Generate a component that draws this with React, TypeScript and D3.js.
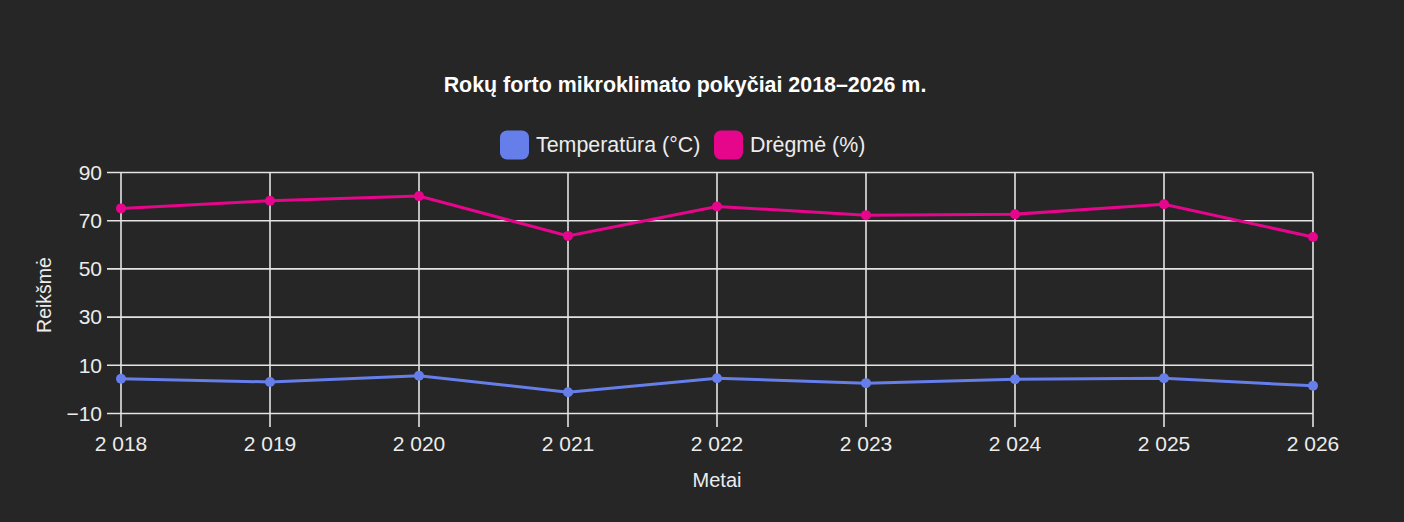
import { useEffect, useRef } from "react";
import * as d3 from "d3";

const years = [2018, 2019, 2020, 2021, 2022, 2023, 2024, 2025, 2026];
const temperature = [4.4, 3.1, 5.7, -1.2, 4.6, 2.6, 4.2, 4.6, 1.5];
const humidity = [75.1, 78.3, 80.2, 63.7, 75.9, 72.3, 72.7, 76.8, 63.2];
const yTicks = [-10, 10, 30, 50, 70, 90];
const seriesNames = ["Temperatūra (°C)", "Drėgmė (%)"];
const seriesColors = ["#667eea", "#e6068c"];

const W = 1404,
  H = 522;

const App = () => {
  const ref = useRef<SVGSVGElement>(null);

  useEffect(() => {
    document.body.style.margin = "0";
    document.body.style.background = "#262626";
    const svg = d3.select(ref.current);
    svg.selectAll("*").remove();

    const font = "Arial, 'Liberation Sans', sans-serif";
    const gridColor = "#e4e4e4";
    const textColor = "#ececec";

    svg.append("rect").attr("width", W).attr("height", H).attr("fill", "#262626");

    const x = d3.scalePoint<number>().domain(years).range([121, 1313]);
    const y = d3.scaleLinear().domain([-10, 90]).range([413.5, 172.5]);

    const lt = d3.formatLocale({
      decimal: ",",
      thousands: "\u00a0",
      grouping: [3],
      currency: ["", " €"],
    });
    const yearFmt = lt.format(",d");

    // grid
    const grid = svg.append("g");
    yTicks.forEach((t) => {
      grid
        .append("line")
        .attr("x1", 107)
        .attr("x2", 1313)
        .attr("y1", y(t))
        .attr("y2", y(t))
        .attr("stroke", gridColor)
        .attr("stroke-width", 1.6);
    });
    years.forEach((yr) => {
      grid
        .append("line")
        .attr("x1", x(yr)!)
        .attr("x2", x(yr)!)
        .attr("y1", y(90))
        .attr("y2", 427)
        .attr("stroke", gridColor)
        .attr("stroke-width", 1.6);
    });

    // y tick labels
    svg
      .append("g")
      .selectAll("text")
      .data(yTicks)
      .enter()
      .append("text")
      .attr("x", 102)
      .attr("y", (d) => y(d))
      .attr("dy", "0.35em")
      .attr("text-anchor", "end")
      .attr("fill", textColor)
      .style("font-family", font)
      .style("font-size", "21px")
      .text((d) => d3.format("d")(d));

    // x tick labels
    svg
      .append("g")
      .selectAll("text")
      .data(years)
      .enter()
      .append("text")
      .attr("x", (d) => x(d)!)
      .attr("y", 451)
      .attr("text-anchor", "middle")
      .attr("fill", textColor)
      .style("font-family", font)
      .style("font-size", "21px")
      .text((d) => yearFmt(d));

    // axis titles
    svg
      .append("text")
      .attr("x", 717)
      .attr("y", 487)
      .attr("text-anchor", "middle")
      .attr("fill", textColor)
      .style("font-family", font)
      .style("font-size", "20px")
      .text("Metai");
    svg
      .append("text")
      .attr("transform", "translate(51,295) rotate(-90)")
      .attr("text-anchor", "middle")
      .attr("fill", textColor)
      .style("font-family", font)
      .style("font-size", "19.5px")
      .text("Reikšmė");

    // series
    const line = d3
      .line<number>()
      .x((_, i) => x(years[i])!)
      .y((d) => y(d));
    [temperature, humidity].forEach((vals, si) => {
      const g = svg.append("g");
      g.append("path")
        .attr("d", line(vals) as string)
        .attr("fill", "none")
        .attr("stroke", seriesColors[si])
        .attr("stroke-width", 3);
      g.selectAll("circle")
        .data(vals)
        .enter()
        .append("circle")
        .attr("cx", (_, i) => x(years[i])!)
        .attr("cy", (d) => y(d))
        .attr("r", 5)
        .attr("fill", seriesColors[si]);
    });

    // title
    svg
      .append("text")
      .attr("x", 685)
      .attr("y", 92)
      .attr("text-anchor", "middle")
      .attr("fill", "#ffffff")
      .style("font-family", font)
      .style("font-size", "21.4px")
      .style("font-weight", "bold")
      .text("Rokų forto mikroklimato pokyčiai 2018–2026 m.");

    // legend
    const legendX = [500, 714];
    seriesNames.forEach((name, i) => {
      svg
        .append("rect")
        .attr("x", legendX[i])
        .attr("y", 130.5)
        .attr("width", 29)
        .attr("height", 29)
        .attr("rx", 7)
        .attr("fill", seriesColors[i]);
      svg
        .append("text")
        .attr("x", legendX[i] + 36)
        .attr("y", 152)
        .attr("fill", textColor)
        .style("font-family", font)
        .style("font-size", "21.4px")
        .text(name);
    });
  }, []);

  return (
    <svg
      ref={ref}
      width={W}
      height={H}
      style={{ position: "absolute", left: 0, top: 0, display: "block" }}
    />
  );
};

export default App;
